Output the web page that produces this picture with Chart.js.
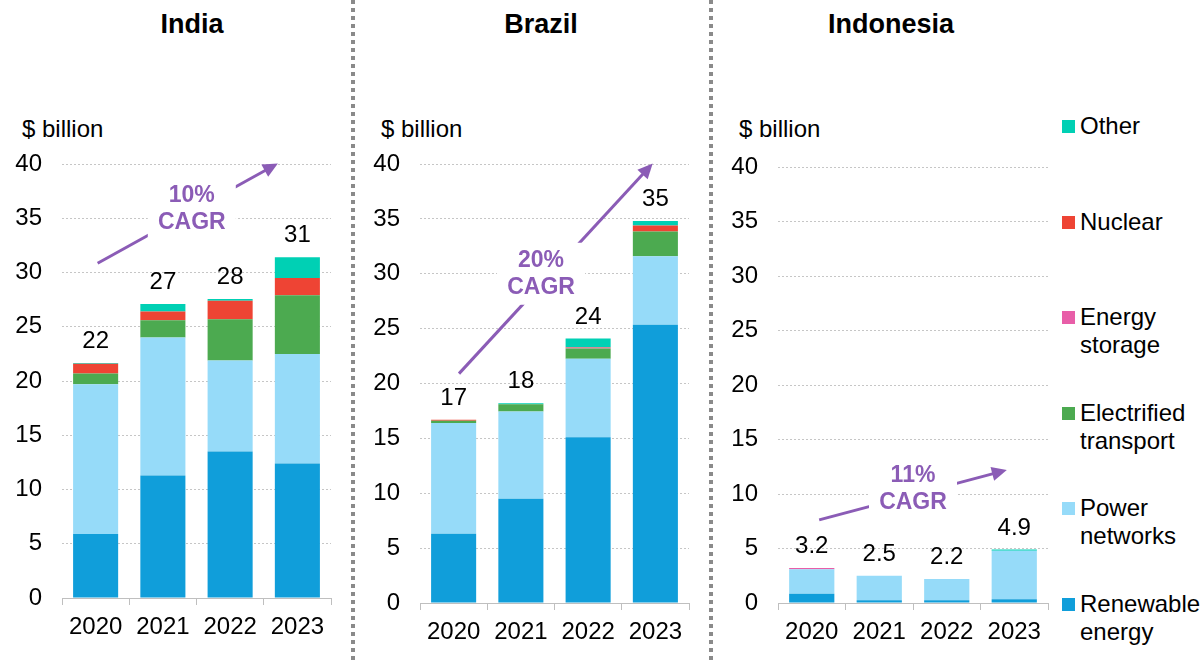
<!DOCTYPE html>
<html>
<head>
<meta charset="utf-8">
<script src="https://cdn.jsdelivr.net/npm/chart.js@4.4.1/dist/chart.umd.min.js"></script>
<style>
  body { margin: 0; background: #fff; font-family: "Liberation Sans", Arial, sans-serif; color: #000; }
  #wrap { position: relative; width: 1203px; height: 664px; overflow: hidden; }
  canvas { position: absolute; top: 0; }
  .title { position: absolute; top: 11px; font-size: 27px; line-height: 27px; font-weight: bold; transform: translateX(-50%); white-space: nowrap; }
  .unit { position: absolute; top: 117px; font-size: 24px; line-height: 24px; white-space: nowrap; }
  .sep { position: absolute; top: 0; width: 4px; height: 664px;
         background: repeating-linear-gradient(to bottom, #8a8a8a 0 4px, transparent 4px 8px); }
  .item { position: absolute; left: 1062px; font-size: 24px; line-height: 28px; }
  .item i { position: absolute; left: 0; top: 8px; width: 13px; height: 13px; }
  .item span { position: absolute; left: 18px; top: 0; white-space: nowrap; }
</style>
</head>
<body>
<div id="wrap">
  <div class="title" style="left:192px">India</div>
  <div class="title" style="left:541px">Brazil</div>
  <div class="title" style="left:891px">Indonesia</div>
  <div class="unit" style="left:22px">$ billion</div>
  <div class="unit" style="left:381px">$ billion</div>
  <div class="unit" style="left:739px">$ billion</div>
  <div class="sep" style="left:351px"></div>
  <div class="sep" style="left:709px"></div>
  <canvas id="india" width="351" height="664" style="left:0px"></canvas>
  <canvas id="brazil" width="350" height="664" style="left:356px"></canvas>
  <canvas id="indonesia" width="345" height="664" style="left:714px"></canvas>
  <div id="legend"></div>
</div>
<script>
const years = ['2020', '2021', '2022', '2023'];
const sectors = ['Renewable energy', 'Power networks', 'Electrified transport', 'Energy storage', 'Nuclear', 'Other'];
const legendLines = [['Renewable', 'energy'], ['Power', 'networks'], ['Electrified', 'transport'], ['Energy', 'storage'], ['Nuclear'], ['Other']];
const sectorColors = ['#109eda', '#96dbf9', '#4caa50', '#e85ea8', '#ee4434', '#00d0b4'];

// $ billion, one array per sector, 2020-2023
const indiaRenewable = [5.9, 11.3, 13.5, 12.4];
const indiaNetworks  = [13.8, 12.7, 8.4, 10.1];
const indiaTransport = [1.0, 1.6, 3.8, 5.4];
const indiaStorage   = [0, 0, 0, 0];
const indiaNuclear   = [0.9, 0.8, 1.7, 1.6];
const indiaOther     = [0.05, 0.7, 0.15, 1.9];

const brazilRenewable = [6.3, 9.5, 15.1, 25.35];
const brazilNetworks  = [10.1, 7.95, 7.15, 6.25];
const brazilTransport = [0.2, 0.65, 0.95, 2.25];
const brazilStorage   = [0, 0, 0.05, 0];
const brazilNuclear   = [0.1, 0, 0.05, 0.55];
const brazilOther     = [0, 0.1, 0.8, 0.4];

const indonesiaRenewable = [0.85, 0.25, 0.25, 0.35];
const indonesiaNetworks  = [2.25, 2.25, 1.95, 4.45];
const indonesiaTransport = [0, 0, 0, 0];
const indonesiaStorage   = [0.1, 0, 0, 0];
const indonesiaNuclear   = [0, 0, 0, 0];
const indonesiaOther     = [0, 0, 0, 0.1];

const cagrLabels = ['10%', '20%', '11%'];
const yTicks = [0, 5, 10, 15, 20, 25, 30, 35, 40];

const FONT = '"Liberation Sans", Arial, sans-serif';
const PURPLE = '#8b5cb6';

// totals above each stack, plus the CAGR arrow with its boxed label
const overlay = {
  id: 'overlay',
  afterDatasetsDraw(chart, args, opts) {
    const { ctx, scales: { x, y } } = chart;
    ctx.save();
    ctx.font = '24px ' + FONT;
    ctx.fillStyle = '#000';
    ctx.textAlign = 'center';
    ctx.textBaseline = 'alphabetic';
    chart.data.labels.forEach((lab, i) => {
      let total = 0;
      chart.data.datasets.forEach(ds => { total += ds.data[i]; });
      ctx.fillText(total.toFixed(opts.digits), x.getPixelForValue(i), y.getPixelForValue(total) - 15);
    });

    const a = opts.arrow;
    const x0 = x.getPixelForValue(a.from[0]), y0 = y.getPixelForValue(a.from[1]);
    const x1 = x.getPixelForValue(a.to[0]), y1 = y.getPixelForValue(a.to[1]);
    const ang = Math.atan2(y1 - y0, x1 - x0);
    const head = 15;
    ctx.strokeStyle = PURPLE;
    ctx.fillStyle = PURPLE;
    ctx.lineWidth = 3;
    ctx.beginPath();
    ctx.moveTo(x0, y0);
    ctx.lineTo(x1 - Math.cos(ang) * head * 0.8, y1 - Math.sin(ang) * head * 0.8);
    ctx.stroke();
    ctx.beginPath();
    ctx.moveTo(x1, y1);
    ctx.lineTo(x1 - Math.cos(ang) * head + Math.sin(ang) * 7, y1 - Math.sin(ang) * head - Math.cos(ang) * 7);
    ctx.lineTo(x1 - Math.cos(ang) * head - Math.sin(ang) * 7, y1 - Math.sin(ang) * head + Math.cos(ang) * 7);
    ctx.closePath();
    ctx.fill();

    const cx = x.getPixelForValue(a.text[0]), cy = y.getPixelForValue(a.text[1]);
    ctx.fillStyle = '#fff';
    ctx.fillRect(cx - 44, cy - 31, 88, 62);
    ctx.fillStyle = PURPLE;
    ctx.font = 'bold 23px ' + FONT;
    ctx.textBaseline = 'middle';
    ctx.fillText(opts.cagr, cx, cy - 13);
    ctx.fillText('CAGR', cx, cy + 14);
    ctx.restore();
  }
};

function makeChart(id, values, layout, digits, cagr, arrow) {
  new Chart(document.getElementById(id), {
    type: 'bar',
    data: {
      labels: years,
      datasets: values.map((v, k) => ({
        label: sectors[k],
        data: v,
        backgroundColor: sectorColors[k],
        borderWidth: 0,
        categoryPercentage: 1,
        barPercentage: 0.67
      }))
    },
    options: {
      responsive: false,
      animation: false,
      devicePixelRatio: 1,
      layout: { padding: { top: layout.top, right: layout.right, bottom: 0, left: 0 } },
      plugins: {
        legend: { display: false },
        tooltip: { enabled: false },
        overlay: { digits: digits, cagr: cagr, arrow: arrow }
      },
      scales: {
        x: {
          stacked: true,
          afterFit: s => { s.height = layout.xHeight; },
          grid: { display: true, drawOnChartArea: false, drawTicks: true, tickLength: 7, color: '#bfbfbf' },
          border: { display: true, color: '#bfbfbf', width: 1 },
          ticks: { color: '#000', font: { family: FONT, size: 24 }, padding: 8 }
        },
        y: {
          stacked: true,
          min: 0,
          max: 40,
          afterFit: s => { s.width = layout.yWidth; },
          afterBuildTicks: s => { s.ticks = yTicks.map(v => ({ value: v })); },
          grid: { color: '#c6c6c6', lineWidth: 1, drawTicks: false },
          border: { display: false, dash: [2, 2] },
          ticks: { color: '#000', font: { family: FONT, size: 24 }, padding: 20 }
        }
      }
    },
    plugins: [overlay]
  });
}

makeChart('india',
  [indiaRenewable, indiaNetworks, indiaTransport, indiaStorage, indiaNuclear, indiaOther],
  { top: 164, right: 20, xHeight: 66, yWidth: 62 }, 0, cagrLabels[0],
  { from: [0.03, 30.85], to: [2.71, 40.05], text: [1.43, 35.9] });

makeChart('brazil',
  [brazilRenewable, brazilNetworks, brazilTransport, brazilStorage, brazilNuclear, brazilOther],
  { top: 164, right: 17, xHeight: 61, yWidth: 64 }, 0, cagrLabels[1],
  { from: [0.08, 20.9], to: [2.96, 40.05], text: [1.3, 30.0] });

makeChart('indonesia',
  [indonesiaRenewable, indonesiaNetworks, indonesiaTransport, indonesiaStorage, indonesiaNuclear, indonesiaOther],
  { top: 167, right: 11, xHeight: 61, yWidth: 64 }, 1, cagrLabels[2],
  { from: [0.11, 7.63], to: [2.89, 12.2], text: [1.5, 10.47] });

// legend, top entry is the last stacked sector
const legend = document.getElementById('legend');
for (let k = sectors.length - 1, row = 0; k >= 0; k--, row++) {
  const item = document.createElement('div');
  item.className = 'item';
  item.style.top = (112 + row * 95.6) + 'px';
  item.innerHTML = '<i style="background:' + sectorColors[k] + '"></i><span>' + legendLines[k].join('<br>') + '</span>';
  legend.appendChild(item);
}
</script>
</body>
</html>
